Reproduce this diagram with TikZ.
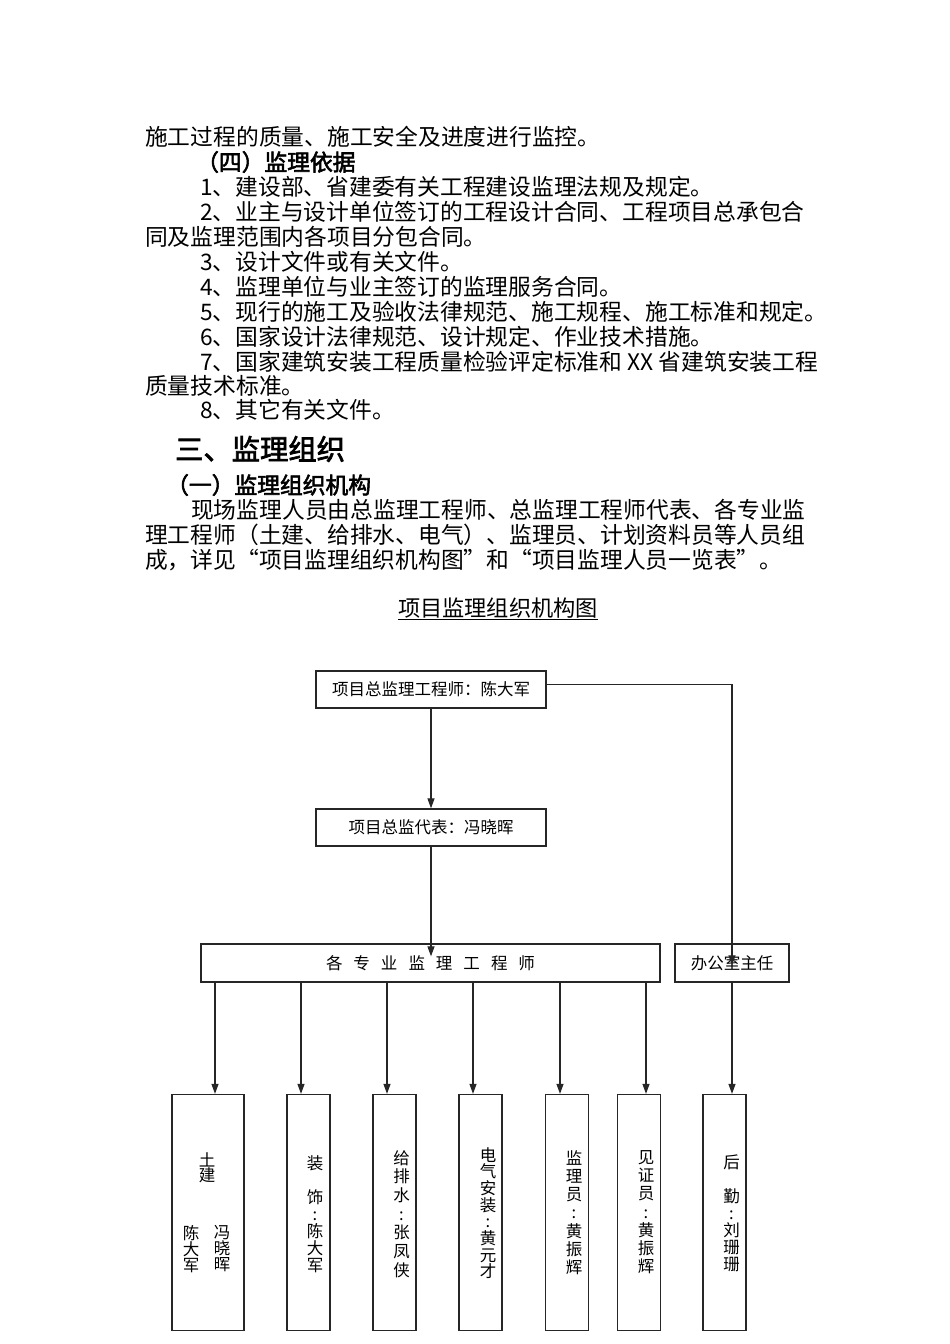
\documentclass[tikz,border=0pt]{standalone}
\usepackage{fontspec}
\setmainfont{Noto Sans CJK SC}[AutoFakeBold=2.5]
\usetikzlibrary{arrows.meta}

\newcommand{\bodysize}{\fontsize{22.76}{25}\selectfont}
\newcommand{\boxsize}{\fontsize{16.5}{17}\selectfont}

\begin{document}
\begin{tikzpicture}[x=1pt, y=-1pt,
  line/.style={anchor=west, inner sep=0pt, font=\bodysize},
  head/.style={line, font=\bodysize\bfseries},
  box/.style={draw=black!85, line width=1.3pt, inner sep=0pt, font=\boxsize},
  col/.style={box, minimum width=43pt, minimum height=236pt},
  vcol/.style={anchor=north, align=center, inner sep=0pt, font=\boxsize},
  arr/.style={-{Triangle[length=10pt, width=7pt]}, line width=1.2pt, black!85}]
\useasboundingbox (0,0) rectangle (950,1344);
% body text
\node[line] (p1) at (145,137) {施工过程的质量、施工安全及进度进行监控。};
\node[head] (h4) at (196,162) {（四）监理依据};
\node[line] (b1) at (200,187) {1、建设部、省建委有关工程建设监理法规及规定。};
\node[line] (b2) at (200,212) {2、业主与设计单位签订的工程设计合同、工程项目总承包合};
\node[line] (b2x) at (145,237) {同及监理范围内各项目分包合同。};
\node[line] (b3) at (200,262) {3、设计文件或有关文件。};
\node[line] (b4) at (200,287) {4、监理单位与业主签订的监理服务合同。};
\node[line] (b5) at (200,312) {5、现行的施工及验收法律规范、施工规程、施工标准和规定。};
\node[line] (b6) at (200,337) {6、国家设计法律规范、设计规定、作业技术措施。};
\node[line] (b7) at (200,362) {7、国家建筑安装工程质量检验评定标准和 XX 省建筑安装工程};
\node[line] (b7x) at (145,386) {质量技术标准。};
\node[line] (b8) at (200,410) {8、其它有关文件。};
\node[line, font=\fontsize{28.3}{30}\selectfont\bfseries] (h3) at (175,449) {三、监理组织};
\node[head] (h31) at (166,485) {（一）监理组织机构};
\node[line] (q1) at (191,510) {现场监理人员由总监理工程师、总监理工程师代表、各专业监};
\node[line] (q2) at (145,535) {理工程师（土建、给排水、电气）、监理员、计划资料员等人员组};
\node[line] (q3) at (145,560) {成，详见“项目监理组织机构图”和“项目监理人员一览表”。};
\node[inner sep=0pt, font=\fontsize{22.2}{24}\selectfont] (ttl) at (498,609) {\underline{项目监理组织机构图}};

% chart
\node[box, minimum width=230pt, minimum height=37pt] (chief) at (431,689.5) {项目总监理工程师：陈大军};
\node[box, minimum width=230pt, minimum height=37pt] (deputy) at (431,827.5) {项目总监代表：冯晓晖};
\node[box, minimum width=459pt, minimum height=38pt] (eng) at (430.5,963)
  {各\hspace{11pt}专\hspace{11pt}业\hspace{11pt}监\hspace{11pt}理\hspace{11pt}工\hspace{11pt}程\hspace{11pt}师};
\node[box, minimum width=114pt, minimum height=38pt] (office) at (732,963) {办公室主任};

\node[col, minimum width=72pt] (civil) at (208,1212.5) {};
\node[col] (deco) at (308.5,1212.5) {};
\node[col] (water) at (394.5,1212.5) {};
\node[col] (elec) at (480.5,1212.5) {};
\node[col] (super) at (567,1212.5) {};
\node[col] (witness) at (639,1212.5) {};
\node[col] (logis) at (724.5,1212.5) {};

\node[vcol, font=\fontsize{16.5}{15.5}\selectfont] (civilT) at (207,1152) {土\\建};
\node[vcol, font=\fontsize{16.5}{16}\selectfont] (civilA) at (191,1225) {陈\\大\\军};
\node[vcol, font=\fontsize{16.5}{16}\selectfont] (civilB) at (222,1225) {冯\\晓\\晖};
\node[vcol] (decoT) at (315,1155) {装\\\mbox{}\\饰\\:\\陈\\大\\军};
\node[vcol, font=\fontsize{16.5}{18.7}\selectfont] (waterT) at (401.5,1150) {给\\排\\水\\:\\张\\凤\\侠};
\node[vcol, font=\fontsize{16.5}{16.7}\selectfont] (elecT) at (488,1147) {电\\气\\安\\装\\:\\黄\\元\\才};
\node[vcol, font=\fontsize{16.5}{18.3}\selectfont] (superT) at (574,1150) {监\\理\\员\\:\\黄\\振\\辉};
\node[vcol, font=\fontsize{16.5}{18.3}\selectfont] (witnessT) at (646,1150) {见\\证\\员\\:\\黄\\振\\辉};
\node[vcol] (logisT) at (731.5,1155) {后\\\mbox{}\\勤\\:\\刘\\珊\\珊};

\draw[arr] (chief) -- (deputy);
\draw[arr] (deputy.south) -- ([yshift=-13pt]eng.north -| deputy.south);
\draw[arr] ([yshift=5pt]chief.east) -| ([yshift=-22pt]office.north);
\foreach \n/\x in {civil/215, deco/301, water/387, elec/473, super/560, witness/646}{
  \coordinate (cx) at (\x,0);
  \draw[arr] (eng.south -| cx) -- (\n.north -| cx);
}
\draw[arr] (office.south) -- (logis.north -| office.south);
\end{tikzpicture}
\end{document}
